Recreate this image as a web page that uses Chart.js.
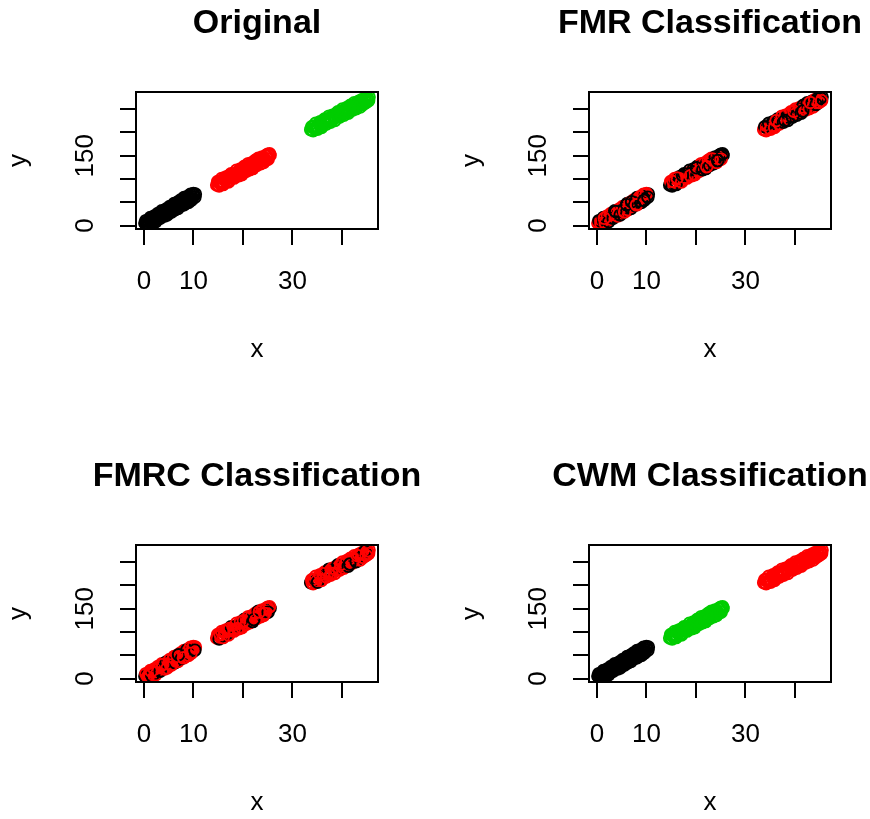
<!DOCTYPE html>
<html>
<head>
<meta charset="utf-8">
<script src="https://cdn.jsdelivr.net/npm/chart.js@4/dist/chart.umd.min.js"></script>
<style>
  html, body { margin: 0; padding: 0; background: #fff; overflow: hidden; }
  .panel { position: absolute; width: 453px; height: 453px; }
</style>
</head>
<body>
<div class="panel" style="left:0;top:0"><canvas id="p1" width="453" height="453"></canvas></div>
<div class="panel" style="left:453px;top:0"><canvas id="p2" width="453" height="453"></canvas></div>
<div class="panel" style="left:0;top:453px"><canvas id="p3" width="453" height="453"></canvas></div>
<div class="panel" style="left:453px;top:453px"><canvas id="p4" width="453" height="453"></canvas></div>
<script>
// points of the three groups (105 per group)
const group1X = [0.2,0.5,0.9,1.1,1.4,1.8,2.0,2.3,2.7,2.9,
  3.2,3.5,3.9,4.1,4.4,4.8,5.0,5.3,5.7,5.9,
  6.2,6.6,6.8,7.1,7.5,7.7,8.0,8.4,8.6,8.9,
  9.3,9.5,9.8,10.1,10.4,0.7,1.2,1.6,2.5,3.0,
  3.7,4.3,4.6,5.1,5.5,6.0,6.4,7.0,7.3,7.9,
  8.2,8.8,9.1,9.6,0.3,1.0,1.9,2.6,3.4,4.0,
  4.9,5.6,6.5,7.2,7.8,8.5,9.2,9.9,3.1,5.8,
  0.4,0.8,1.3,1.7,2.1,2.4,2.8,3.3,3.6,4.2,
  4.5,4.7,5.2,5.4,6.1,6.3,6.7,6.9,7.4,7.6,
  8.1,8.3,8.7,9.0,9.4,9.7,10.0,10.3,1.5,3.8,
  5.6,6.0,7.0,8.0,9.5];
const group1Y = [5.3,4.2,10.7,3.9,10.8,9.3,18.6,15.5,13.0,21.3,
  20.2,27.1,22.6,28.8,24.7,34.2,30.5,39.4,35.9,39.2,
  35.1,45.6,41.8,49.7,44.3,51.5,48.4,54.9,54.2,61.1,
  56.6,62.9,60.7,65.6,67.5,4.4,11.6,7.1,18.8,15.9,
  24.3,32.1,28.0,35.1,31.7,42.8,39.3,41.1,48.0,54.8,
  48.7,54.4,61.3,57.5,3.9,8.3,16.0,14.4,19.4,31.2,
  27.9,39.3,38.0,45.4,47.1,57.6,58.0,66.4,23.5,39.5,
  10.5,4.0,17.2,4.7,20.2,8.1,25.6,15.8,31.7,20.5,
  35.4,22.6,40.8,29.0,47.4,33.7,49.2,36.5,54.6,42.9,
  60.0,46.3,61.8,49.7,67.2,56.1,69.0,60.9,15.5,29.9,
  29.3,44.8,51.1,44.4,53.9];

const group2X = [14.7,15.0,15.3,15.5,15.8,16.1,16.4,16.6,16.9,17.2,
  17.5,17.7,18.0,18.3,18.6,18.8,19.1,19.4,19.7,19.9,
  20.2,20.5,20.8,21.0,21.3,21.6,21.9,22.1,22.4,22.7,
  23.0,23.2,23.5,23.8,24.1,24.3,24.6,24.9,25.2,25.5,
  15.1,15.6,16.3,16.8,17.4,17.9,18.5,19.0,19.6,20.0,
  20.6,21.2,21.7,22.3,22.9,23.4,24.0,24.5,25.0,15.9,
  17.0,18.1,19.3,20.4,21.5,22.6,23.7,24.8,16.5,20.9,
  14.9,15.2,15.7,16.0,16.7,17.1,17.6,18.2,18.7,19.2,
  19.5,19.8,20.3,20.7,21.1,21.4,21.8,22.0,22.5,22.8,
  23.1,23.6,23.9,24.2,24.7,25.1,25.4,15.4,17.3,18.9,
  20.1,22.2,23.3,24.4,16.2];
const group2Y = [87.2,87.0,94.8,88.0,94.7,92.5,102.3,98.4,95.2,104.0,
  102.8,108.9,103.7,110.5,106.2,114.4,111.2,120.0,115.7,118.9,
  114.7,124.5,121.2,128.4,122.2,129.9,126.7,131.9,131.7,138.4,
  133.2,139.4,137.2,141.9,143.7,142.9,148.6,143.4,151.2,151.0,
  93.6,90.5,98.7,95.6,107.2,104.1,105.7,113.6,120.1,114.5,
  120.0,128.6,124.5,133.1,136.6,141.6,139.1,142.1,153.0,90.3,
  103.8,103.3,113.4,117.9,130.4,132.8,143.3,149.8,99.9,121.8,
  94.4,85.2,101.1,87.9,105.0,93.4,111.3,101.9,118.8,106.8,
  121.6,109.3,127.3,116.6,133.0,119.8,135.1,122.3,140.3,129.0,
  144.8,132.7,147.5,135.3,151.2,142.6,154.4,94.4,107.6,107.0,
  124.1,126.5,143.0,139.5,102.1];

const group3X = [33.7,34.0,34.3,34.6,34.9,35.2,35.5,35.8,36.1,36.4,
  36.7,37.0,37.3,37.6,37.9,38.2,38.5,38.8,39.1,39.4,
  39.7,40.0,40.3,40.6,40.9,41.2,41.5,41.8,42.1,42.4,
  42.7,43.0,43.3,43.6,43.9,44.2,44.5,44.8,45.1,45.5,
  34.1,34.8,35.4,36.0,36.6,37.2,37.8,38.4,39.0,39.6,
  40.2,40.8,41.4,42.0,42.6,43.2,43.8,44.4,45.0,45.3,
  35.0,36.3,37.5,38.7,39.9,41.1,42.3,43.5,44.7,40.5,
  33.9,34.2,34.7,35.1,35.6,35.9,36.5,36.9,37.4,37.7,
  38.1,38.6,39.2,39.5,40.1,40.4,41.0,41.3,41.7,42.2,
  42.5,42.9,43.4,43.7,44.0,44.3,44.6,44.9,45.2,45.4,
  36.2,38.0,39.8,41.6,43.1];
const group3Y = [206.1,205.8,213.5,207.2,213.9,211.6,221.3,218.0,214.7,223.4,
  222.1,228.8,223.5,230.2,225.9,234.6,231.3,240.0,235.7,239.4,
  235.1,244.8,241.5,249.2,242.9,250.6,247.3,253.0,252.7,259.4,
  254.1,260.8,258.5,263.2,264.9,264.6,270.3,265.0,272.7,276.0,
  212.4,210.3,217.7,215.1,226.5,223.9,225.3,233.7,240.1,235.5,
  240.9,249.3,245.7,254.1,257.5,262.9,260.3,263.7,272.2,269.9,
  209.4,223.8,223.6,233.4,238.2,251.0,253.8,264.7,271.5,242.6,
  212.2,203.9,219.7,207.0,222.9,210.6,229.0,218.2,235.1,221.8,
  237.0,225.9,244.3,233.0,250.4,237.1,253.5,241.2,258.4,248.3,
  264.0,251.2,267.1,254.8,270.5,260.2,272.9,264.6,274.3,268.4,
  225.3,225.5,245.7,245.9,264.4];

// class of every point in each panel (1 black, 2 red, 3 green), in point order
const originalClass =
  '1111111111 1111111111 1111111111 1111111111 1111111111 1111111111 1111111111 1111111111 1111111111 1111111111 11111 ' +
  '2222222222 2222222222 2222222222 2222222222 2222222222 2222222222 2222222222 2222222222 2222222222 2222222222 22222 ' +
  '3333333333 3333333333 3333333333 3333333333 3333333333 3333333333 3333333333 3333333333 3333333333 3333333333 33333';
const fmrClass =
  '2212121122 1212112122 1211212122 1212121121 2212112212 1211221212 2121121221 1212212112 2121122121 1221212121 21121 ' +
  '1121212211 2121121212 1212211212 1121212121 2112121221 2121211212 1212122121 2121121212 1212212121 2112121212 12212 ' +
  '2212121212 1212211211 2121212122 1211212121 2212121121 1212121212 2121212112 1212121221 2121212112 1212211212 21212';
const fmrcClass =
  '1222122212 2122212221 2212221222 1221222122 2212212221 2122122212 2221221222 2221222122 1222212221 2212222122 22122 ' +
  '2212221222 1222122212 2122212212 2212221221 2221222122 1222212221 2212221222 2122221222 2212222122 1222212222 21222 ' +
  '1222212222 2122221222 2212222122 2221222212 2122212222 2212221222 2222122212 2221222212 2212222122 2122221222 22212';
const cwmClass =
  '1111111111 1111111111 1111111111 1111111111 1111111111 1111111111 1111111111 1111111111 1111111111 1111111111 11111 ' +
  '3333333333 3333333333 3333333333 3333333333 3333333333 3333333333 3333333333 3333333333 3333333333 3333333333 33333 ' +
  '2222222222 2222222222 2222222222 2222222222 2222222222 2222222222 2222222222 2222222222 2222222222 2222222222 22222';

const panelTitles = ['Original', 'FMR Classification', 'FMRC Classification', 'CWM Classification'];
const xTicks = [0, 10, 20, 30, 40];
const xTickLabels = ['0', '10', '', '30', ''];
const yTicks = [0, 50, 100, 150, 200, 250];
const yTickLabels = ['0', '', '', '150', '', ''];

const palette = { 1: '#000000', 2: '#FF0000', 3: '#00CD00' };

Chart.defaults.font.family = "'Liberation Sans', Arial, Helvetica, sans-serif";
Chart.defaults.color = '#000';

const allX = group1X.concat(group2X, group3X);
const allY = group1Y.concat(group2Y, group3Y);
const points = allX.map((x, i) => ({ x: x, y: allY[i] }));

// box round the plot region and the panel title
const frame = {
  id: 'frame',
  afterDatasetsDraw(chart, args, opts) {
    const ctx = chart.ctx;
    const a = chart.chartArea;
    ctx.save();
    ctx.strokeStyle = '#000';
    ctx.lineWidth = 2;
    ctx.strokeRect(a.left, a.top, a.right - a.left, a.bottom - a.top);
    ctx.font = "bold 34px 'Liberation Sans', Arial, sans-serif";
    ctx.fillStyle = '#000';
    ctx.textAlign = 'center';
    ctx.textBaseline = 'alphabetic';
    ctx.fillText(opts.text, (a.left + a.right) / 2, 32.5);
    ctx.restore();
  }
};

function axisGrid() {
  return { drawOnChartArea: false, drawTicks: true, tickLength: 16, lineWidth: 2, color: '#000' };
}

function makePanel(id, title, classString) {
  const classes = classString.replace(/ /g, '').split('').map(Number);
  return new Chart(document.getElementById(id), {
    type: 'scatter',
    data: {
      datasets: [{
        data: points,
        pointRadius: 5.8,
        pointHoverRadius: 5.8,
        pointBorderWidth: 1.9,
        pointBackgroundColor: 'rgba(0,0,0,0)',
        pointBorderColor: classes.map(c => palette[c]),
        clip: 0
      }]
    },
    options: {
      responsive: false,
      animation: false,
      devicePixelRatio: 1,
      events: [],
      layout: { padding: { top: 92, left: 0, right: 75, bottom: 88 } },
      plugins: {
        legend: { display: false },
        tooltip: { enabled: false },
        frame: { text: title }
      },
      scales: {
        x: {
          type: 'linear',
          min: -1.6,
          max: 47.3,
          afterBuildTicks: axis => { axis.ticks = xTicks.map(v => ({ value: v })); },
          ticks: {
            autoSkip: false,
            maxRotation: 0,
            padding: 21,
            color: '#000',
            font: { size: 26 },
            callback: v => xTickLabels[xTicks.indexOf(v)]
          },
          grid: axisGrid(),
          border: { display: false },
          title: { display: true, text: 'x', color: '#000', font: { size: 26 }, padding: { top: 0, bottom: 0 } },
          afterFit: axis => { axis.height = 136; }
        },
        y: {
          type: 'linear',
          min: -7.5,
          max: 287,
          afterBuildTicks: axis => { axis.ticks = yTicks.map(v => ({ value: v })); },
          ticks: {
            autoSkip: false,
            minRotation: 90,
            maxRotation: 90,
            crossAlign: 'center',
            padding: 12,
            color: '#000',
            font: { size: 26 },
            callback: v => yTickLabels[yTicks.indexOf(v)]
          },
          grid: axisGrid(),
          border: { display: false },
          title: { display: true, text: 'y', color: '#000', font: { size: 26 }, padding: { top: 3, bottom: 0 } },
          afterFit: axis => { axis.width = 136; }
        }
      }
    },
    plugins: [frame]
  });
}

makePanel('p1', panelTitles[0], originalClass);
makePanel('p2', panelTitles[1], fmrClass);
makePanel('p3', panelTitles[2], fmrcClass);
makePanel('p4', panelTitles[3], cwmClass);
</script>
</body>
</html>
